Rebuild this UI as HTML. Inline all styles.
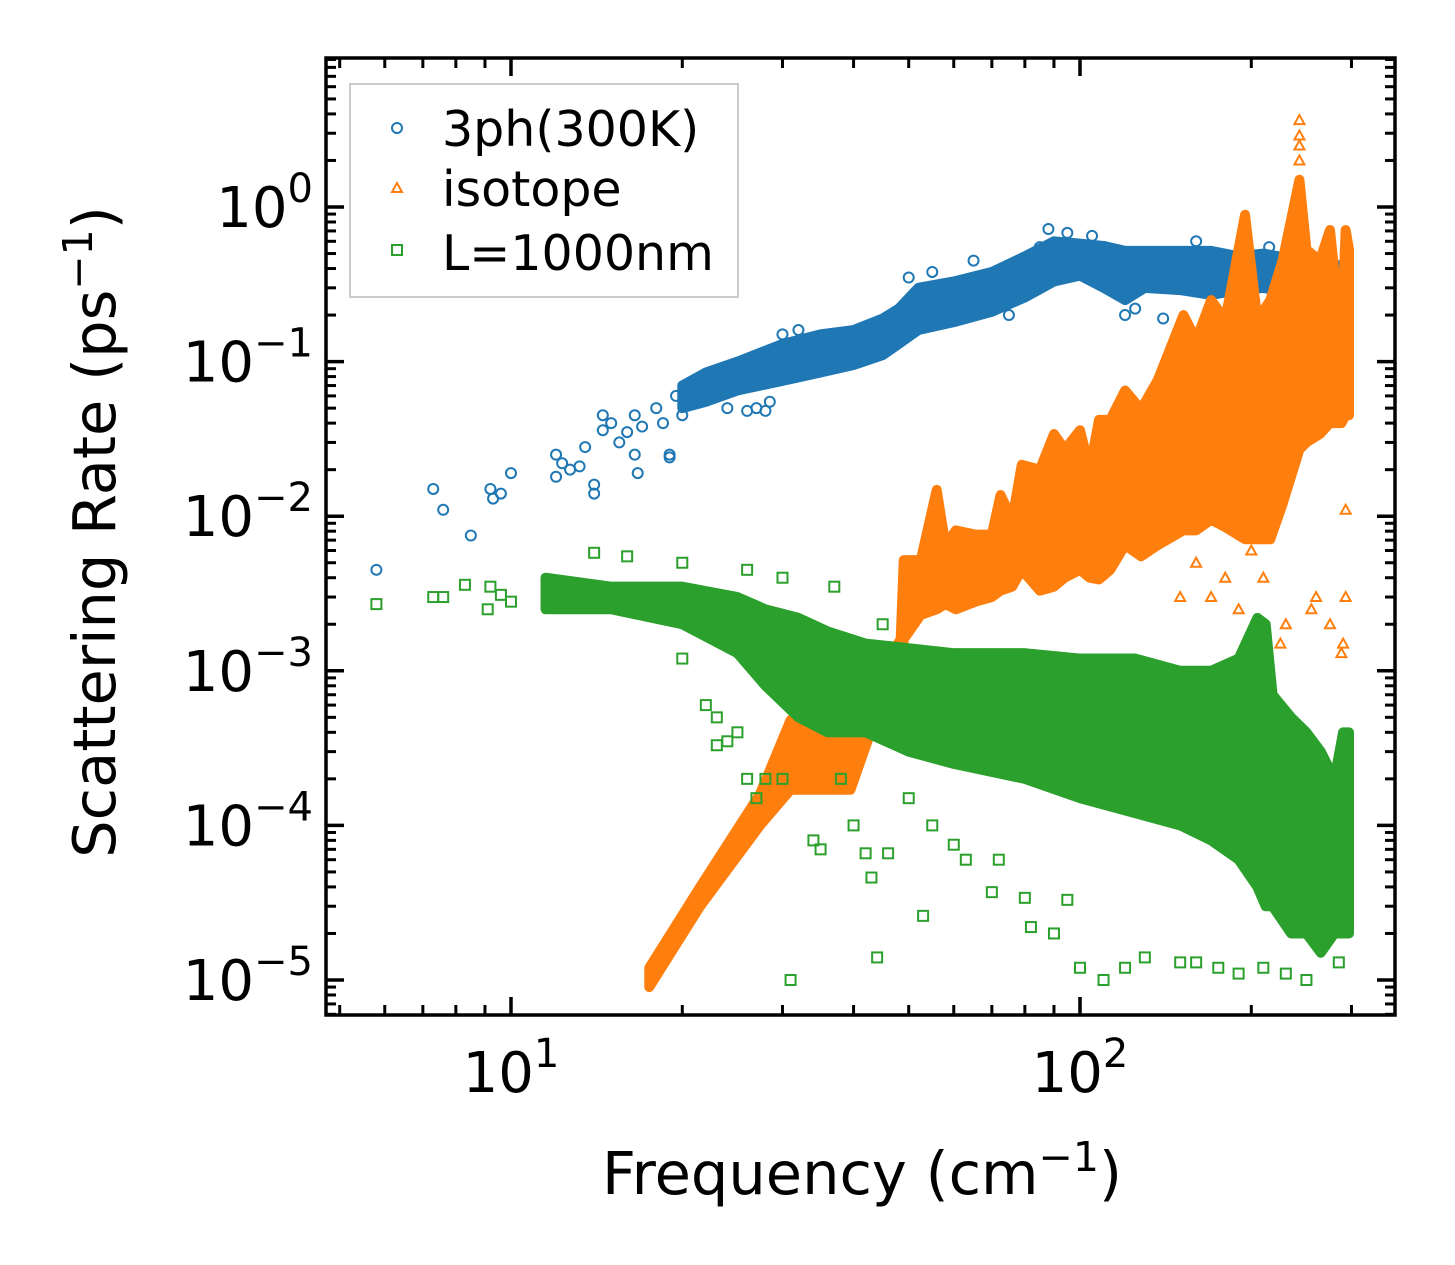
<!DOCTYPE html>
<html><head><meta charset="utf-8"><style>
html,body{margin:0;padding:0;background:#fff;}
svg{display:block;font-family:"DejaVu Sans","Liberation Sans",sans-serif;}
</style></head><body>
<svg id="chart" width="1455" height="1265" viewBox="0 0 1455 1265" xmlns="http://www.w3.org/2000/svg">
<rect width="1455" height="1265" fill="#fff"/>
<g id="marks"></g>
<g id="axes"></g>
<g>
<rect x="350" y="84" width="388" height="213" fill="#fff" fill-opacity="0.8" stroke="#cccccc" stroke-width="2"/>
<circle cx="397" cy="128" r="5" fill="none" stroke="#1f77b4" stroke-width="2"/>
<text x="442" y="146" font-size="49">3ph(300K)</text>
<polygon points="397,183 402,192 392,192" fill="none" stroke="#ff7f0e" stroke-width="2"/>
<text x="442" y="206" font-size="49">isotope</text>
<rect x="392" y="245" width="10" height="10" fill="none" stroke="#2ca02c" stroke-width="2"/>
<text x="442" y="270" font-size="49">L=1000nm</text>
</g>
<text x="862" y="1194" font-size="59" text-anchor="middle">Frequency (cm<tspan dy="-23" font-size="41">−1</tspan><tspan dy="23">)</tspan></text>
<text transform="translate(115,532) rotate(-90)" font-size="59" text-anchor="middle">Scattering Rate (ps<tspan dy="-23" font-size="41">−1</tspan><tspan dy="23">)</tspan></text>
</svg>
<script>
// ---- data ----
const blueBandFreq=[20,22,25,30,35,40,45,48,52,60,70,80,90,100,110,120,130,150,170,190,210,230,260,297];
const blueBandLo=[.05,.055,.065,.075,.085,.095,.11,.13,.16,.18,.21,.26,.33,.36,.3,.25,.3,.29,.27,.29,.3,.28,.26,.24];
const blueBandHi=[.07,.085,.1,.13,.15,.16,.19,.22,.3,.33,.38,.48,.6,.58,.56,.52,.52,.52,.52,.48,.5,.47,.42,.42];
const blueFreq=[5.8,7.3,7.6,8.5,9.2,9.3,9.6,10,12,12,12.3,12.7,13.2,13.5,14,14,14.5,14.5,15,15.5,16,16.5,16.5,16.7,17,18,18.5,19,19,19.5,20,21,22,24,26,27,28,28.5,29,30,32,88,95,120,140,200,215,50,55,65,75,85,105,125,160,180];
const blueRate=[.0045,.015,.011,.0075,.015,.013,.014,.019,.025,.018,.022,.02,.021,.028,.016,.014,.036,.045,.04,.03,.035,.045,.025,.019,.038,.05,.04,.025,.024,.06,.045,.055,.07,.05,.048,.05,.048,.055,.12,.15,.16,.72,.68,.2,.19,.22,.55,.35,.38,.45,.2,.55,.65,.22,.6,.2];
const orangeBandFreq=[17.5,21.5,27.4,31,35,39.5,43.6,48.4,49,52.5,56,58,60.5,65.5,70,72.5,76,79,85,90,94,100,104,108,113,120,128,137,152,160,170,180,195,205,216,227,243,250,264,275,288,293,297];
const orangeBandLo=[.9e-5,3e-5,1e-4,1.7e-4,1.7e-4,1.7e-4,4.8e-4,7.5e-4,.0016,.0023,.0025,.0027,.0025,.0028,.003,.0033,.0035,.0045,.0033,.0035,.004,.0045,.004,.0039,.0045,.0065,.0055,.0065,.0081,.0081,.0095,.0085,.0071,.0071,.0071,.012,.027,.03,.034,.04,.04,.045,.045];
const orangeBandHi=[1.2e-5,4e-5,1.6e-4,4.8e-4,4.8e-4,6.5e-4,8.7e-4,.0016,.0052,.0052,.0148,.0065,.0081,.0076,.0076,.0137,.0095,.0215,.02,.034,.027,.036,.02,.042,.042,.065,.049,.076,.2,.138,.25,.186,.89,.186,.25,.45,1.5,.53,.45,.71,.138,.71,.53];
const orangeFreq=[243,243,243,243,293,293,290,288,275,260,255,230,225,210,200,190,180,170,160,150];
const orangeRate=[3.65,2.9,2.5,2.0,.011,.003,.0015,.0013,.002,.003,.0025,.002,.0015,.004,.006,.0025,.004,.003,.005,.003];
const greenBandFreq=[11.5,15,20,25,28,32,36,42,50,60,80,100,125,150,170,190,205,212,218,235,250,265,280,290,297];
const greenBandLo=[.0025,.0025,.002,.0013,.0008,.0005,.0004,.0004,.0003,.00025,.0002,.00015,.00012,.0001,.00008,.00006,.00004,.00003,.00003,.00002,.00002,.000015,.00002,.00002,.00002];
const greenBandHi=[.004,.0035,.0035,.003,.0025,.0022,.0018,.0015,.0014,.0013,.0013,.0012,.0012,.001,.001,.0012,.0022,.002,.0007,.0005,.0004,.0003,.0002,.0004,.0004];
const greenFreq=[5.8,7.3,7.6,8.3,9.1,9.2,9.6,10,14,16,20,20,22,23,24,25,26,27,28,30,31,34,35,38,40,42,43,44,46,50,53,55,60,63,70,72,80,82,90,95,100,110,120,130,150,160,175,190,210,230,250,285,37,45,30,26,23];
const greenRate=[.0027,.003,.003,.0036,.0025,.0035,.0031,.0028,.0058,.0055,.005,.0012,.0006,.00033,.00035,.0004,.0002,.00015,.0002,.0002,.00001,.00008,.00007,.0002,.0001,.000066,.000046,.000014,.000066,.00015,.000026,.0001,.000075,.00006,.000037,.00006,.000034,.000022,.00002,.000033,.000012,.00001,.000012,.000014,.000013,.000013,.000012,.000011,.000012,.000011,.00001,.000013,.0035,.002,.004,.0045,.0005];
const xTickVals=[10,100];
const xTickLabels=["1","2"];
const yTickVals=[1,0.1,0.01,0.001,0.0001,0.00001];
const yTickLabels=["0","−1","−2","−3","−4","−5"];

// ---- axes ----
const L=326,R=1395,T=58,B=1015;
const X=f=>511+569*(Math.log10(f)-1);
const Y=v=>207-154.6*Math.log10(v);
const NS="http://www.w3.org/2000/svg";
const marks=document.getElementById('marks'),axes=document.getElementById('axes');
function mk(tag,attrs,parent){const e=document.createElementNS(NS,tag);for(const k in attrs)e.setAttribute(k,attrs[k]);parent.appendChild(e);return e;}

function band(fr,lo,hi,color,name){
  let pts=[];
  for(let i=0;i<fr.length;i++)pts.push(X(fr[i])+','+Y(hi[i]));
  for(let i=fr.length-1;i>=0;i--)pts.push(X(fr[i])+','+Y(lo[i]));
  const p=mk('polygon',{points:pts.join(' '),fill:color,stroke:color,'stroke-width':10,'stroke-linejoin':'round'},marks);
  
  
}
function scatter(fr,rt,shape,color,name){
  for(let i=0;i<fr.length;i++){
    const x=X(fr[i]),y=Y(rt[i]);let e;
    if(shape==='c')e=mk('circle',{cx:x,cy:y,r:5,fill:'none',stroke:color,'stroke-width':2},marks);
    else if(shape==='t')e=mk('polygon',{points:`${x},${y-5} ${x+5},${y+4} ${x-5},${y+4}`,fill:'none',stroke:color,'stroke-width':2},marks);
    else e=mk('rect',{x:x-5,y:y-5,width:10,height:10,fill:'none',stroke:color,'stroke-width':2},marks);
    
    
  }
}
band(blueBandFreq,blueBandLo,blueBandHi,'#1f77b4','band-3ph');
scatter(blueFreq,blueRate,'c','#1f77b4','point-3ph');
band(orangeBandFreq,orangeBandLo,orangeBandHi,'#ff7f0e','band-isotope');
scatter(orangeFreq,orangeRate,'t','#ff7f0e','point-isotope');
band(greenBandFreq,greenBandLo,greenBandHi,'#2ca02c','band-boundary');
scatter(greenFreq,greenRate,'s','#2ca02c','point-boundary');

mk('rect',{x:0,y:0,width:L,height:1265,fill:'#fff'},axes);
mk('rect',{x:L,y:T,width:R-L,height:B-T,fill:'none',stroke:'#000','stroke-width':3.5},axes);
function tick(x1,y1,x2,y2,w){mk('line',{x1,y1,x2,y2,stroke:'#000','stroke-width':w},axes);}
for(let d=0;d<=2;d++)for(let m=1;m<=9;m++){
  const f=m*Math.pow(10,d);const x=X(f);if(x<L||x>R)continue;
  const len=m===1?18:10,w=m===1?3.5:3;
  tick(x,B,x,B-len,w);tick(x,T,x,T+len,w);
}
for(let d=-6;d<=0;d++)for(let m=1;m<=9;m++){
  const v=m*Math.pow(10,d);const y=Y(v);if(y<T||y>B)continue;
  const len=m===1?18:10,w=m===1?3.5:3;
  tick(L,y,L+len,y,w);tick(R,y,R-len,y,w);
}
xTickVals.forEach((v,i)=>{
  const t=mk('text',{x:X(v),y:1092,'font-size':56,'text-anchor':'middle'},axes);
  
  
  t.innerHTML='10<tspan dy="-25" font-size="40">'+xTickLabels[i]+'</tspan>';
});
yTickVals.forEach((v,i)=>{
  const t=mk('text',{x:313,y:Y(v)+20,'font-size':56,'text-anchor':'end'},axes);
  
  
  t.innerHTML='10<tspan dy="-25" font-size="40">'+yTickLabels[i]+'</tspan>';
});
</script>
</body></html>
